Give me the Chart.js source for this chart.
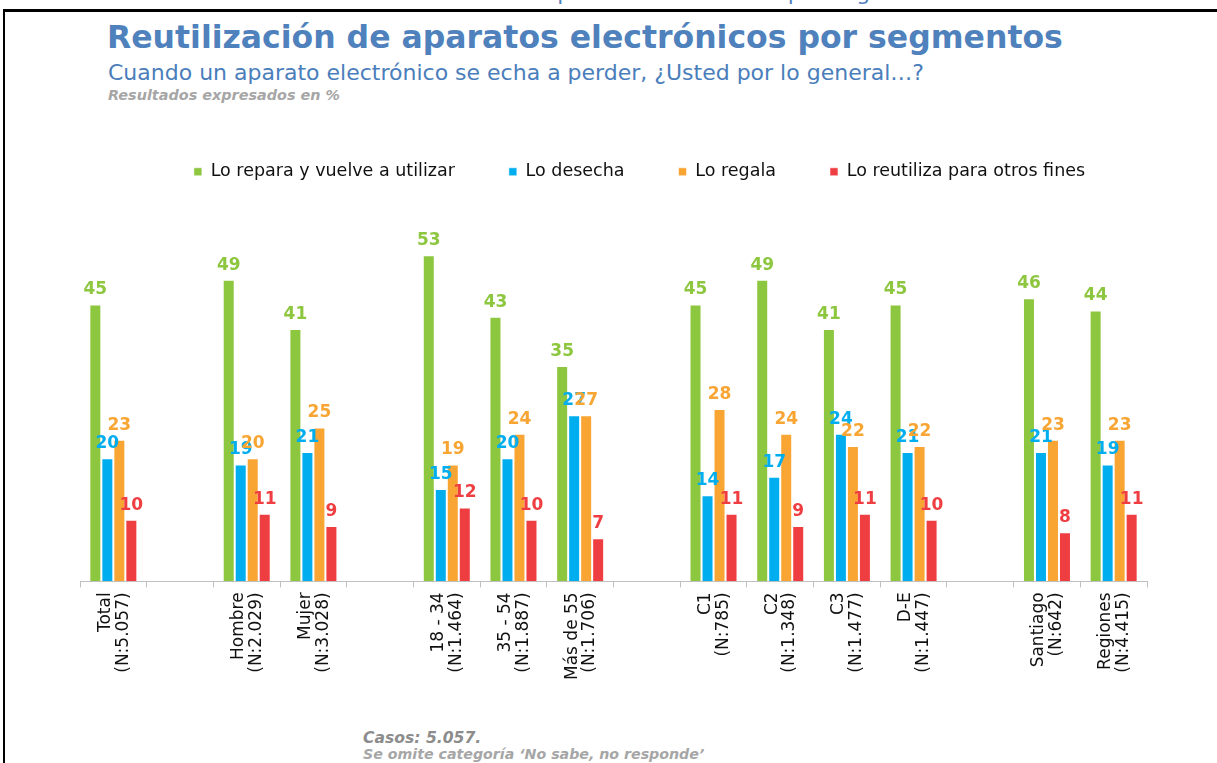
<!DOCTYPE html>
<html>
<head>
<meta charset="utf-8">
<script src="https://cdn.jsdelivr.net/npm/chart.js@4.4.0/dist/chart.umd.min.js"></script>
<style>
  html, body { margin:0; padding:0; background:#fff; width:1217px; height:763px; overflow:hidden; }
  #frame { position:absolute; left:3px; top:9px; width:1300px; height:900px; border-left:2px solid #000; border-top:3px solid #000; }
  .t { position:absolute; white-space:nowrap; font-family:"DejaVu Sans", Verdana, sans-serif; line-height:normal; }
  #cut { left:363px; top:-17.6px; font-size:22px; line-height:22px; color:#4F81BD; }
  #title { left:107px; top:18.8px; font-size:31.5px; font-weight:bold; color:#4F81BD; }
  #sub { left:108px; top:59.6px; font-size:22px; color:#4A7EBB; }
  #note { left:108px; top:87px; font-size:14.4px; font-weight:bold; font-style:italic; color:#A6A6A6; }
  #f1 { left:363px; top:728.6px; font-size:15.6px; font-weight:bold; font-style:italic; color:#8C8C8C; }
  #f2 { left:363px; top:745.8px; font-size:14.2px; font-weight:bold; font-style:italic; color:#A6A6A6; }
  #wrap { position:absolute; left:0; top:0; width:1217px; height:763px; }
</style>
</head>
<body>
<div class="t" id="cut">Reutilización de aparatos electrónicos por segmentos</div>
<div id="frame"></div>
<div class="t" id="title">Reutilización de aparatos electrónicos por segmentos</div>
<div class="t" id="sub">Cuando un aparato electrónico se echa a perder, ¿Usted por lo general…?</div>
<div class="t" id="note">Resultados expresados en %</div>
<div class="t" id="f1">Casos: 5.057.</div>
<div class="t" id="f2">Se omite categoría ‘No sabe, no responde’</div>
<div id="wrap"><canvas id="c" width="1217" height="763"></canvas></div>
<script>
const categories = [
  ["Total", "(N:5.057)"], "",
  ["Hombre", "(N:2.029)"], ["Mujer", "(N:3.028)"], "",
  ["18 - 34", "(N:1.464)"], ["35 - 54", "(N:1.887)"], ["Más de 55", "(N:1.706)"], "",
  ["C1", "(N:785)"], ["C2", "(N:1.348)"], ["C3", "(N:1.477)"], ["D-E", "(N:1.447)"], "",
  ["Santiago", "(N:642)"], ["Regiones", "(N:4.415)"]
];
const seriesNames = ["Lo repara y vuelve a utilizar", "Lo desecha", "Lo regala", "Lo reutiliza para otros fines"];
const repara    = [45, null, 49, 41, null, 53, 43, 35, null, 45, 49, 41, 45, null, 46, 44];
const desecha   = [20, null, 19, 21, null, 15, 20, 27, null, 14, 17, 24, 21, null, 21, 19];
const regala    = [23, null, 20, 25, null, 19, 24, 27, null, 28, 24, 22, 22, null, 23, 23];
const reutiliza = [10, null, 11,  9, null, 12, 10,  7, null, 11,  9, 11, 10, null,  8, 11];
const colors = ["#8DC63F", "#00AEEF", "#F9A533", "#EF3E42"];

const valueLabels = {
  id: 'valueLabels',
  afterDatasetsDraw(chart) {
    const ctx = chart.ctx;
    ctx.save();
    ctx.font = 'bold 17px "DejaVu Sans", Verdana, sans-serif';
    ctx.textAlign = 'center';
    ctx.textBaseline = 'bottom';
    chart.data.datasets.forEach((ds, i) => {
      const meta = chart.getDatasetMeta(i);
      ctx.fillStyle = ds.backgroundColor;
      meta.data.forEach((el, j) => {
        const v = ds.data[j];
        if (v === null || v === undefined) return;
        ctx.fillText(String(v), el.x, el.y - 6);
      });
    });
    ctx.restore();
  }
};
const legendShift = {
  id: 'legendShift',
  afterLayout(chart) { if (chart.legend) chart.legend.left += 62; }
};

new Chart(document.getElementById('c'), {
  type: 'bar',
  data: {
    labels: categories,
    datasets: [repara, desecha, regala, reutiliza].map((d, i) => ({
      label: seriesNames[i], data: d, backgroundColor: colors[i],
      borderColor: 'rgba(255,255,255,0.55)', borderWidth: 1,
      barPercentage: 1.0, categoryPercentage: 0.72
    }))
  },
  options: {
    responsive: false, animation: false, devicePixelRatio: 1,
    layout: { padding: { left: 0, right: 0, top: 109, bottom: 78 } },
    plugins: {
      title: { display: false }, tooltip: { enabled: false },
      legend: {
        display: true, position: 'top', align: 'center',
        labels: {
          boxWidth: 8, boxHeight: 8, padding: 54, color: '#111',
          font: { family: '"DejaVu Sans", Verdana, sans-serif', size: 17.5 }
        }
      }
    },
    scales: {
      x: {
        offset: true,
        grid: { display: true, drawOnChartArea: false, drawTicks: true, tickLength: 6, offset: true, color: '#BFBFBF' },
        border: { display: true, color: '#BFBFBF', width: 1 },
        ticks: {
          autoSkip: false, maxRotation: 90, minRotation: 90, padding: 5, labelOffset: -8, color: '#111',
          font: { family: '"DejaVu Sans", Verdana, sans-serif', size: 17, lineHeight: 1.05 }
        }
      },
      y: {
        display: true, position: 'left', min: 0, max: 63.5,
        ticks: { display: false }, grid: { display: false }, border: { display: false },
        afterFit(s) { s.width = 80; }
      },
      yR: {
        display: true, position: 'right', min: 0, max: 1,
        ticks: { display: false }, grid: { display: false }, border: { display: false },
        afterFit(s) { s.width = 70; }
      }
    }
  },
  plugins: [valueLabels, legendShift]
});
</script>
</body>
</html>
